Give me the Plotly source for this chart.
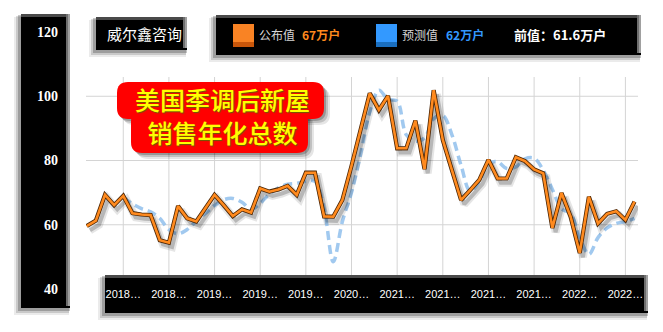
import plotly.graph_objects as go

# ---------------- data ----------------
x_idx = list(range(61))
published = [59.6, 61.3, 69.3, 66.1, 69.0, 63.6, 63.2, 63.0, 55.2, 54.4,
             65.8, 62.0, 61.0, 65.2, 69.3, 66.1, 62.7, 64.8, 63.8, 71.3,
             70.3, 71.0, 72.1, 69.3, 76.2, 76.2, 62.6, 62.5, 67.7, 78.3,
             89.8, 100.9, 95.7, 100.1, 83.8, 83.8, 92.4, 77.3, 101.9, 86.4,
             77.0, 67.7, 70.8, 74.0, 80.2, 74.4, 74.4, 81.0, 79.8, 77.2,
             76.0, 59.0, 69.9, 62.5, 51.2, 68.7, 60.4, 63.4, 64.2, 61.5, 67.2]
forecast = [None, None, None, None,
            68.5, 66.5, 65.0, 64.0, 62.0, 58.5, 57.2, 58.5, 61.2, 63.5,
            66.0, 67.8, 68.2, 67.0, 64.8, 66.7, 69.5, 71.5, 72.6, 72.9,
            73.5, 73.5, 65.0, 48.5, 61.0, 70.0, 82.0, 95.0, 101.9, 99.0,
            98.5, 88.0, 86.0, 87.0, 93.0, 94.0, 88.0, 78.5, 70.5, 73.5,
            79.0, 79.6, 77.5, 78.0, 80.5, 80.7, 77.0, 71.0, 65.0, 63.5,
            56.0, 50.8, 56.0, 59.0, 60.4, 61.0, 62.0]
tick_vals = [4, 9, 14, 19, 24, 29, 34, 39, 44, 49, 54, 59]
tick_text = ["2018…", "2018…", "2019…", "2019…", "2019…", "2020…",
             "2021…", "2021…", "2021…", "2021…", "2022…", "2022…"]
y_ticks = [40, 60, 80, 100, 120]
grid_y = [60, 80, 100]

title_lines = ["美国季调后新屋", "销售年化总数"]
brand = "威尔鑫咨询"
legend_pub = ("公布值", "67万户")
legend_fc = ("预测值", "62万户")
prev_text = "前值：61.6万户"

# ---------------- geometry helpers ----------------
L, R, T, B = 86, 638, 32, 289
W, H = 663, 332


def px(x):
    return (x - L) / (R - L)


def py(y):
    return (B - y) / (B - T)


shapes = []


def rect(x0, y0, x1, y1, fill):
    shapes.append(dict(type="rect", xref="paper", yref="paper",
                       x0=px(x0), x1=px(x1), y0=py(y1), y1=py(y0),
                       fillcolor=fill, line=dict(width=0), layer="below"))


def rrect(x0, y0, x1, y1, r, fill):
    def p(x, y):
        return f"{px(x):.5f},{py(y):.5f}"
    path = (f"M{p(x0 + r, y0)} L{p(x1 - r, y0)} Q{p(x1, y0)} {p(x1, y0 + r)} "
            f"L{p(x1, y1 - r)} Q{p(x1, y1)} {p(x1 - r, y1)} "
            f"L{p(x0 + r, y1)} Q{p(x0, y1)} {p(x0, y1 - r)} "
            f"L{p(x0, y0 + r)} Q{p(x0, y0)} {p(x0 + r, y0)} Z")
    shapes.append(dict(type="path", xref="paper", yref="paper", path=path,
                       fillcolor=fill, line=dict(width=0), layer="below"))


def box(x0, y0, x1, y1):
    rect(x0 - 7, y0 + 3, x1 - 1, y1 + 7, "rgba(0,0,0,0.08)")
    rect(x0 - 5, y0 + 2, x1 - 1, y1 + 5, "rgba(0,0,0,0.14)")
    rect(x0 - 3, y0 + 1, x1, y1 + 3, "rgba(0,0,0,0.22)")
    rect(x0, y0, x1, y1, "#000000")
    rect(x0, y0, x1, y0 + 3, "#4a4a4a")
    rect(x1 - 4, y0, x1 - 2, y1 - 2, "#6e6e6e")
    rect(x1 - 2, y0, x1, y1 - 2, "#a0a0a0")


# gridlines (drawn as shapes so the boxes can cover them)
for gy in grid_y:
    shapes.append(dict(type="line", xref="paper", yref="y", x0=0, x1=1,
                       y0=gy, y1=gy, line=dict(color="#d4d4d4", width=1),
                       layer="below"))
for tv in tick_vals:
    shapes.append(dict(type="line", xref="x", yref="paper", x0=tv, x1=tv,
                       y0=py(276), y1=py(77), line=dict(color="#d4d4d4", width=1),
                       layer="below"))

# boxes
box(21, 14, 70, 308)
box(96, 17, 187, 50)
box(216, 15, 641, 55)
box(105, 275, 648, 313)

# legend swatches
rect(233, 24, 254, 47, "#f98324")
rect(233, 42, 254, 47, "#c9560a")
rect(376, 24, 397, 47, "#3399ff")
rect(376, 42, 397, 47, "#1a6fc0")

# red title blob with soft shadow
for off, col in [(6, "rgba(0,0,0,0.10)"), (4, "rgba(0,0,0,0.16)"), (2, "rgba(0,0,0,0.22)")]:
    rrect(117 + off, 82 + off, 324 + off, 119 + off, 11, col)
    rrect(131 + off, 110 + off, 308 + off, 153 + off, 11, col)
rrect(117, 82, 324, 119, 11, "#ff0000")
rrect(131, 110, 308, 153, 11, "#ff0000")

# ---------------- traces ----------------
fig = go.Figure()
fig.add_trace(go.Scatter(x=x_idx, y=forecast, mode="lines",
                         line=dict(color="rgba(145,192,236,0.85)", width=3.5,
                                   dash="9px,5px", shape="spline", smoothing=1),
                         hoverinfo="skip"))
shadow_x = [v + 0.35 for v in x_idx]
shadow_y = [v - 1.3 for v in published]
fig.add_trace(go.Scatter(x=shadow_x, y=shadow_y, mode="lines",
                         line=dict(color="rgba(0,0,0,0.10)", width=8),
                         hoverinfo="skip"))
fig.add_trace(go.Scatter(x=shadow_x, y=shadow_y, mode="lines",
                         line=dict(color="rgba(0,0,0,0.20)", width=4),
                         hoverinfo="skip"))
fig.add_trace(go.Scatter(x=x_idx, y=published, mode="lines",
                         line=dict(color="#4a2404", width=4.2),
                         hoverinfo="skip"))
fig.add_trace(go.Scatter(x=x_idx, y=published, mode="lines",
                         line=dict(color="#ff8a1e", width=2.6),
                         hoverinfo="skip"))

# ---------------- annotations ----------------
ann = []
CJK = "Noto Sans CJK SC"


def text(x, y, s, color, size, weight=400, xanchor="left", family=CJK, shadow=None):
    f = dict(family=family, size=size, color=color, weight=weight)
    if shadow:
        f["shadow"] = shadow
    ann.append(dict(xref="paper", yref="paper", x=px(x), y=py(y), text=s,
                    showarrow=False, xanchor=xanchor, yanchor="middle", font=f))


text(105, 33, brand, "#ffffff", 15)
text(257, 35, legend_pub[0], "#d6d6d6", 12)
text(300, 35, legend_pub[1], "#ff8a1e", 12, 700)
text(400, 35, legend_fc[0], "#d6d6d6", 12)
text(444, 35, legend_fc[1], "#3399ff", 12, 700)
text(512, 35, prev_text, "#ffffff", 13, 700)

text(222, 116, "<br>".join(title_lines), "#ffff00", 25, 500, xanchor="center",
     shadow="1px 1px 1px #6b5c00")

fig.update_layout(
    width=W, height=H, autosize=False,
    margin=dict(l=L, r=W - R, t=T, b=H - B, pad=0),
    paper_bgcolor="#ffffff", plot_bgcolor="#ffffff",
    showlegend=False, shapes=shapes, annotations=ann,
    xaxis=dict(range=[-0.08, 60.38], tickvals=tick_vals, ticktext=tick_text,
               showgrid=False, zeroline=False, showline=False, ticks="",
               tickfont=dict(family="Liberation Sans", size=11, color="#ffffff"),
               ticklabelstandoff=-3, fixedrange=True),
    yaxis=dict(range=[40, 120], tickvals=y_ticks, showgrid=False, zeroline=False,
               showline=False, ticks="",
               tickfont=dict(family="Liberation Serif", size=14, color="#ffffff", weight=700),
               ticklabelstandoff=27, fixedrange=True),
)

fig.write_html("out.html", config={"displayModeBar": False})
